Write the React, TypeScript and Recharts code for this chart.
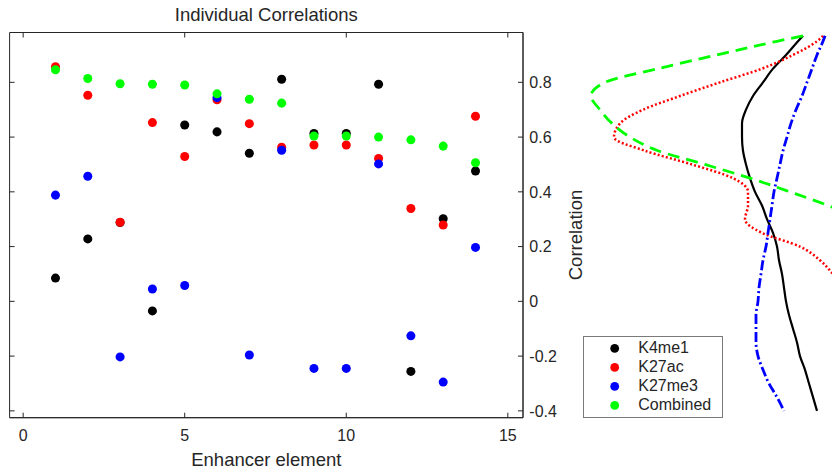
import { ScatterChart, Scatter, LineChart, Line, XAxis, YAxis, Legend, ReferenceArea } from 'recharts'

// enhancer elements on the x axis
const elements = [1, 2, 3, 4, 5, 6, 7, 8, 9, 10, 11, 12, 13, 14]

// correlation per element, one list per mark
const k4me1 = [0.085, 0.228, 0.288, -0.035, 0.644, 0.619, 0.541, 0.811, 0.613, 0.613, 0.793, -0.256, 0.302, 0.476]
const k27ac = [0.857, 0.753, 0.289, 0.653, 0.529, 0.736, 0.649, 0.563, 0.571, 0.571, 0.522, 0.339, 0.279, 0.676]
const k27me3 = [0.388, 0.457, -0.203, 0.045, 0.058, 0.744, -0.196, 0.552, -0.245, -0.245, 0.502, -0.126, -0.295, 0.197]
const combined = [0.846, 0.814, 0.795, 0.793, 0.79, 0.758, 0.738, 0.724, 0.604, 0.604, 0.6, 0.59, 0.567, 0.506]
const seriesNames = ['K4me1', 'K27ac', 'K27me3', 'Combined']

const xTicks = [0, 5, 10, 15]
const yTicks = [-0.4, -0.2, 0, 0.2, 0.4, 0.6, 0.8]

// density curves drawn sideways on the right, read on a shared correlation grid
const corrGrid = [0.97, 0.95, 0.9, 0.85, 0.8, 0.75, 0.7, 0.65, 0.6, 0.55, 0.5, 0.45, 0.4, 0.35, 0.3, 0.25, 0.2, 0.15, 0.1, 0.05, 0, -0.05, -0.1, -0.15, -0.2, -0.25, -0.3, -0.35, -0.4]
const k4me1Density = [0.77, 0.82, 0.94, 1.07, 1.17, 1.27, 1.34, 1.38, 1.38, 1.37, 1.34, 1.3, 1.25, 1.18, 1.13, 1.07, 1.03, 1.01, 0.98, 0.96, 0.94, 0.91, 0.87, 0.83, 0.8, 0.75, 0.71, 0.67, 0.63]
const k27acDensity = [0.57, 0.63, 0.87, 1.18, 1.6, 2.0, 2.37, 2.6, 2.66, 2.35, 1.88, 1.47, 1.32, 1.32, 1.35, 1.18, 0.8, 0.6, 0.47, 0.35, null, null, null, null, null, null, null, null, null]
const k27me3Density = [0.55, 0.57, 0.63, 0.68, 0.73, 0.78, 0.84, 0.89, 0.93, 0.97, 1.0, 1.03, 1.06, 1.08, 1.1, 1.12, 1.14, 1.17, 1.19, 1.21, 1.22, 1.24, 1.24, 1.24, 1.22, 1.17, 1.11, 1.03, 0.96]
const combinedDensity = [0.77, 1.03, 1.63, 2.22, 2.75, 2.89, 2.8, 2.68, 2.5, 2.22, 1.75, 1.3, 0.9, 0.52, 0.2, null, null, null, null, null, null, null, null, null, null, null, null, null, null]

const AX = '#262626'
const FONT = '"Liberation Sans", Arial, Helvetica, sans-serif'
const X_DOMAIN: [number, number] = [-0.42, 15.47]
const Y_DOMAIN: [number, number] = [-0.425, 0.982]
// plot box edges in px (left chart)
const PLOT_LEFT = 9.6
const PLOT_TOP = 32.5
const TICK = 5

const points = (vals: number[]) => elements.map((x, i) => ({ x, y: vals[i] }))

const densityRows = corrGrid.map((corr, i) => ({
  corr,
  k4me1: k4me1Density[i],
  k27ac: k27acDensity[i],
  k27me3: k27me3Density[i],
  combined: combinedDensity[i],
}))

const fmt = (v: number) => String(Math.round(v * 10) / 10)

// bottom ticks, inward, mirrored on the top edge
function XTick({ x, y, payload }: any) {
  return (
    <g>
      <line x1={x} x2={x} y1={y} y2={y - TICK} stroke={AX} />
      <line x1={x} x2={x} y1={PLOT_TOP} y2={PLOT_TOP + TICK} stroke={AX} />
      <text x={x} y={y + 12.3} dy="0.71em" textAnchor="middle" fontSize={16} fill={AX}>
        {payload.value}
      </text>
    </g>
  )
}

// right ticks, inward, mirrored on the left edge
function YTick({ x, y, payload }: any) {
  return (
    <g>
      <line x1={x} x2={x - TICK} y1={y} y2={y} stroke={AX} />
      <line x1={PLOT_LEFT} x2={PLOT_LEFT + TICK} y1={y} y2={y} stroke={AX} />
      <text x={x + 6.3} y={y} dy="0.36em" textAnchor="start" fontSize={16} fill={AX}>
        {fmt(payload.value)}
      </text>
    </g>
  )
}

function LegendBox({ payload }: any) {
  const items = [...(payload || [])].sort(
    (a: any, b: any) => seriesNames.indexOf(a.value) - seriesNames.indexOf(b.value),
  )
  return (
    <div
      style={{
        boxSizing: 'border-box',
        width: 139.4,
        height: 82.6,
        border: '1px solid #7a7a7a',
        background: '#fff',
        paddingTop: 2.2,
        fontFamily: FONT,
        color: AX,
      }}
    >
      {items.map((entry: any) => (
        <div key={entry.value} style={{ height: 18.9, display: 'flex', alignItems: 'center' }}>
          <svg width={54} height={18.9} style={{ flex: 'none' }}>
            <circle cx={30.7} cy={9.45} r={4.4} fill={entry.color} />
          </svg>
          <span style={{ fontSize: 16, lineHeight: '18.9px' }}>{entry.value}</span>
        </div>
      ))}
    </div>
  )
}

export default function App() {
  return (
    <div style={{ position: 'absolute', left: 0, top: 0, width: 832, height: 473, background: '#fff', fontFamily: FONT }}>
      <div style={{ position: 'absolute', left: 0, top: 0 }}>
        <ScatterChart width={600} height={473} margin={{ top: PLOT_TOP, right: 0, bottom: 0, left: PLOT_LEFT }}>
          <XAxis
            xAxisId="b"
            type="number"
            dataKey="x"
            orientation="bottom"
            domain={X_DOMAIN}
            ticks={xTicks}
            allowDataOverflow
            height={55.3}
            tickSize={0}
            tickMargin={0}
            tickLine={false}
            axisLine={{ stroke: AX }}
            tick={<XTick />}
            label={{ value: 'Enhancer element', position: 'insideBottom', offset: 7.5, fontSize: 18.5, fill: AX }}
          />
          <YAxis
            yAxisId="r"
            type="number"
            dataKey="y"
            orientation="right"
            domain={Y_DOMAIN}
            ticks={yTicks}
            allowDataOverflow
            width={77}
            tickSize={0}
            tickMargin={0}
            tickLine={false}
            axisLine={{ stroke: AX }}
            tick={<YTick />}
            label={{
              value: 'Correlation',
              content: () => (
                <text x={581.7} y={235} transform="rotate(-90 581.7 235)" textAnchor="middle" fontSize={18.5} fill={AX}>
                  Correlation
                </text>
              ),
            }}
          />
          <ReferenceArea
            xAxisId="b"
            yAxisId="r"
            x1={X_DOMAIN[0]}
            x2={X_DOMAIN[1]}
            y1={Y_DOMAIN[0]}
            y2={Y_DOMAIN[1]}
            fill="none"
            fillOpacity={0}
            stroke={AX}
            strokeOpacity={1}
            ifOverflow="visible"
            label={{ value: 'Individual Correlations', position: 'top', offset: 11.8, fontSize: 18.5, fill: AX }}
          />
          <Scatter name="K4me1" data={points(k4me1)} xAxisId="b" yAxisId="r" fill="#000000" isAnimationActive={false} />
          <Scatter name="K27ac" data={points(k27ac)} xAxisId="b" yAxisId="r" fill="#ff0000" isAnimationActive={false} />
          <Scatter name="K27me3" data={points(k27me3)} xAxisId="b" yAxisId="r" fill="#0000ff" isAnimationActive={false} />
          <Scatter name="Combined" data={points(combined)} xAxisId="b" yAxisId="r" fill="#00ff00" isAnimationActive={false} />
          <Legend
            layout="vertical"
            align="center"
            verticalAlign="middle"
            wrapperStyle={{ left: 583.3, top: 335.7, width: 139.4, height: 82.6 }}
            content={<LegendBox />}
          />
        </ScatterChart>
      </div>
      <div style={{ position: 'absolute', left: 560, top: 0 }}>
        <LineChart layout="vertical" width={272} height={473} data={densityRows} margin={{ top: PLOT_TOP, right: 0, bottom: 55.3, left: 20 }}>
          <XAxis type="number" hide reversed domain={[0.48, 3.0]} allowDataOverflow />
          <YAxis type="number" dataKey="corr" hide reversed domain={Y_DOMAIN} allowDataOverflow />
          <Line dataKey="k4me1" type="monotone" stroke="#000000" strokeWidth={2.2} dot={false} isAnimationActive={false} />
          <Line dataKey="k27ac" type="monotone" stroke="#ff0000" strokeWidth={2.5} strokeDasharray="2 2.2" dot={false} isAnimationActive={false} />
          <Line dataKey="k27me3" type="monotone" stroke="#0000ff" strokeWidth={2.8} strokeDasharray="10 3 2 3" dot={false} isAnimationActive={false} />
          <Line dataKey="combined" type="monotone" stroke="#00ff00" strokeWidth={2.8} strokeDasharray="12 7" dot={false} isAnimationActive={false} />
        </LineChart>
      </div>
    </div>
  )
}
